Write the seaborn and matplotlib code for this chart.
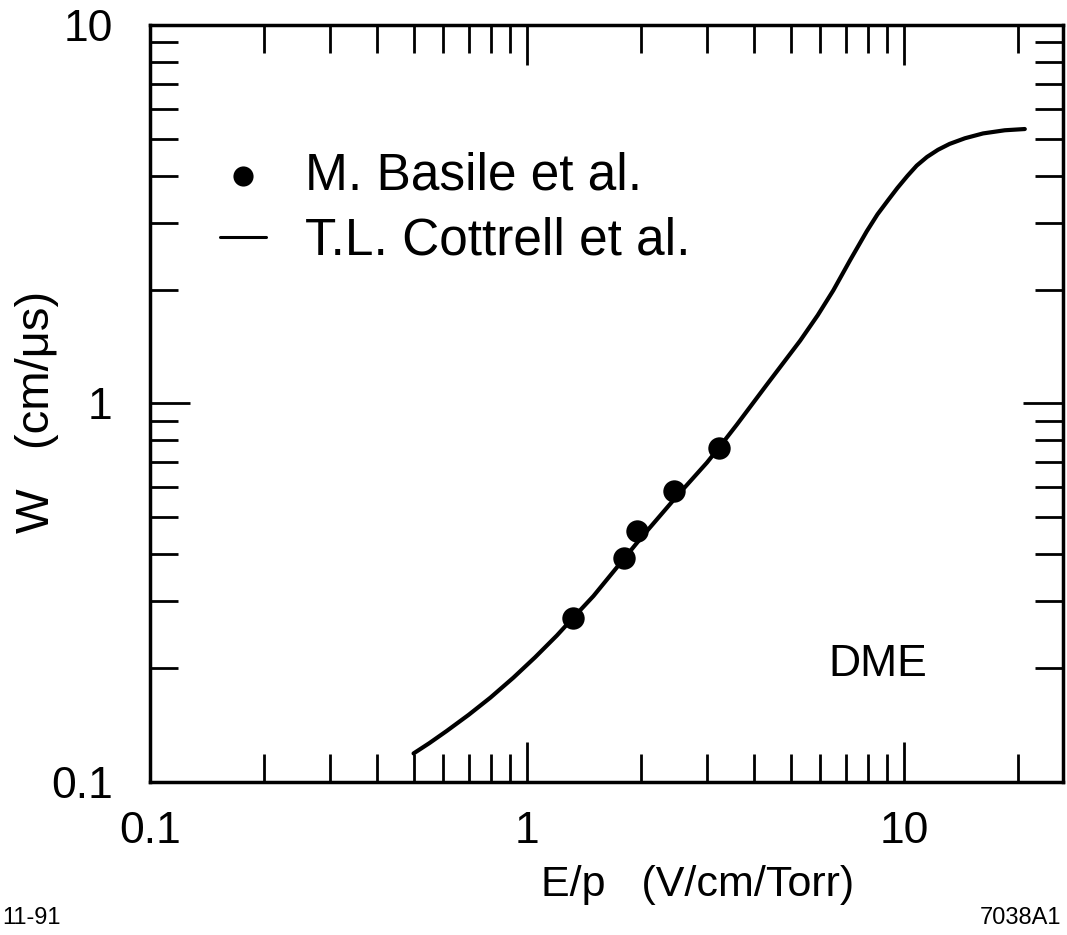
import numpy as np
import pandas as pd
import matplotlib
matplotlib.use('Agg')
import matplotlib.pyplot as plt
import seaborn as sns
from matplotlib.ticker import FixedLocator, FixedFormatter, NullFormatter

# ---- data ----
curve_ep = [0.50, 0.55, 0.612, 0.70, 0.80, 0.92, 1.05, 1.20, 1.32, 1.5, 2.0, 2.5, 3.0, 3.23,
            3.6, 4.32, 5.30, 5.9, 6.49, 7.19, 7.96, 8.5, 9.08, 9.6, 10.2, 10.8,
            11.5, 12.3, 13.2, 14.5, 16.2, 18.5, 20.9]
curve_w = [0.119, 0.1266, 0.1364, 0.1505, 0.1672, 0.1887, 0.2135, 0.2439, 0.2705, 0.310, 0.440, 0.570, 0.698, 0.765,
           0.879, 1.12, 1.465, 1.71, 1.99, 2.39, 2.85, 3.16, 3.45, 3.71, 3.99, 4.25,
           4.48, 4.68, 4.85, 5.02, 5.17, 5.27, 5.31]
data_ep = [1.32, 1.81, 1.96, 2.45, 3.23]
data_w = [0.271, 0.391, 0.460, 0.587, 0.764]

major_ticks = [0.1, 1, 10]
major_labels = ["0.1", "1", "10"]
minor_x = [0.2, 0.3, 0.4, 0.5, 0.6, 0.7, 0.8, 0.9, 2, 3, 4, 5, 6, 7, 8, 9, 20]
minor_y = [0.2, 0.3, 0.4, 0.5, 0.6, 0.7, 0.8, 0.9, 2, 3, 4, 5, 6, 7, 8, 9]

curve_df = pd.DataFrame({"ep": curve_ep, "w": curve_w})
data_df = pd.DataFrame({"ep": data_ep, "w": data_w})

sns.set_theme(style="ticks")
plt.rcParams['font.family'] = ['Liberation Sans', 'DejaVu Sans']
for k in ("text.color", "axes.labelcolor", "xtick.color", "ytick.color", "axes.edgecolor"):
    plt.rcParams[k] = "black"

fig = plt.figure(figsize=(10.67, 9.35), dpi=100)
ax = fig.add_axes([0.1406, 0.1636, 0.8557, 0.8097])

sns.lineplot(data=curve_df, x="ep", y="w", ax=ax, color="black", lw=3,
             sort=False, estimator=None, label="T.L. Cottrell et al.")
sns.scatterplot(data=data_df, x="ep", y="w", ax=ax, color="black", s=260,
                edgecolor="black", linewidth=0, zorder=3, label="M. Basile et al.")

ax.set_xscale("log")
ax.set_yscale("log")
ax.set_xlim(0.1, 26.4)
ax.set_ylim(0.1, 10)

for axis, minors in ((ax.xaxis, minor_x), (ax.yaxis, minor_y)):
    axis.set_major_locator(FixedLocator(major_ticks))
    axis.set_major_formatter(FixedFormatter(major_labels))
    axis.set_minor_locator(FixedLocator(minors))
    axis.set_minor_formatter(NullFormatter())

ax.tick_params(which="both", direction="in", top=True, right=True, color="black",
               labelcolor="black", width=2)
ax.tick_params(which="major", length=29)
ax.tick_params(which="minor", length=20)
ax.tick_params(axis="x", which="major", labelsize=32, pad=21)
ax.tick_params(axis="y", which="major", labelsize=32, pad=27)

for s in ax.spines.values():
    s.set_linewidth(2.5)
    s.set_color("black")

ax.set_xlabel("E/p   (V/cm/Torr)", fontsize=31, va="center", color="black")
ax.xaxis.set_label_coords(0.60, -0.136)
ax.set_ylabel("W   (cm/\u03bcs)", fontsize=34, va="center", color="black")
ax.yaxis.set_label_coords(-0.124, 0.489)

h, l = ax.get_legend_handles_labels()
order = [l.index("M. Basile et al."), l.index("T.L. Cottrell et al.")]
leg = ax.legend([h[i] for i in order], [l[i] for i in order], loc="upper left",
                bbox_to_anchor=(0.0767, 0.833), frameon=False, fontsize=37,
                handlelength=0.9, handletextpad=0.75, labelspacing=0.32,
                borderpad=0, borderaxespad=0, markerscale=0.9)
for t in leg.get_texts():
    t.set_color("black")
for lh in leg.get_lines():
    lh.set_linewidth(2.2)

ax.text(0.797, 0.155, "DME", transform=ax.transAxes, ha="center", va="center", fontsize=32)
fig.text(0.002, 0.018, "11-91", fontsize=17, va="center", ha="left")
fig.text(0.995, 0.018, "7038A1", fontsize=17, va="center", ha="right")

fig.savefig("out.png", dpi=100, facecolor="white")
